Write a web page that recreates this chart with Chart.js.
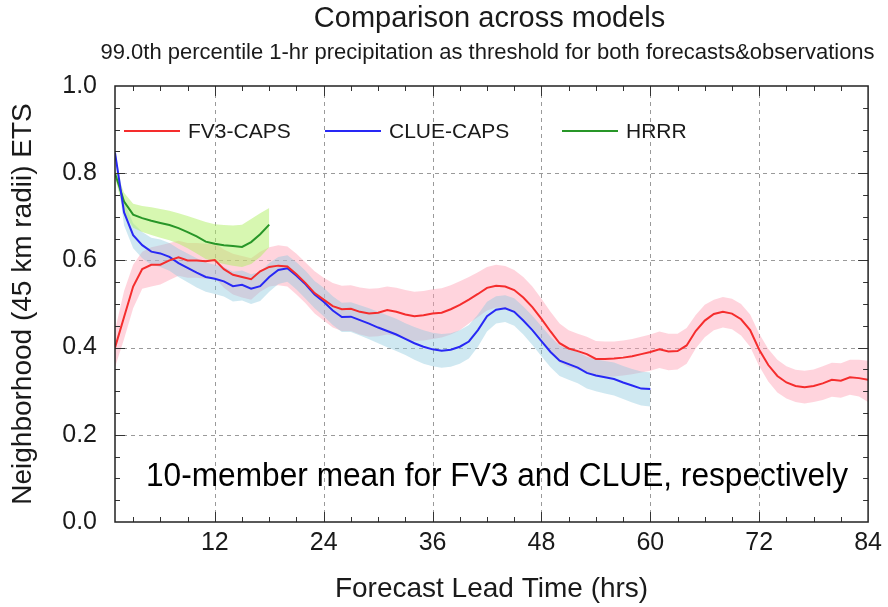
<!DOCTYPE html>
<html>
<head>
<meta charset="utf-8">
<script src="https://cdn.jsdelivr.net/npm/chart.js@4.4.1/dist/chart.umd.min.js"></script>
<style>
  html, body { margin: 0; padding: 0; background: #fff; }
</style>
</head>
<body>
<canvas id="ets" width="888" height="607"></canvas>
<script>
// lead time (hrs), one value per hour
const leadHours = [1,2,3,4,5,6,7,8,9,10,11,12,13,14,15,16,17,18,19,20,21,22,23,24,25,26,27,28,29,30,
  31,32,33,34,35,36,37,38,39,40,41,42,43,44,45,46,47,48,49,50,51,52,53,54,55,56,57,58,59,60,
  61,62,63,64,65,66,67,68,69,70,71,72,73,74,75,76,77,78,79,80,81,82,83,84];

// FV3-CAPS 10-member mean and spread (hrs 1-84)
const fv3Mean = [0.40,0.47,0.54,0.58,0.59,0.59,0.60,0.607,0.60,0.60,0.598,0.601,0.58,0.567,0.562,0.557,0.575,0.585,0.588,0.586,
  0.568,0.548,0.525,0.51,0.495,0.488,0.489,0.482,0.478,0.48,0.486,0.482,0.476,0.472,0.474,0.478,0.48,0.488,0.498,0.51,
  0.523,0.537,0.542,0.54,0.532,0.515,0.493,0.466,0.437,0.41,0.398,0.392,0.385,0.374,0.374,0.375,0.377,0.38,0.385,0.39,
  0.396,0.391,0.392,0.405,0.438,0.462,0.477,0.482,0.478,0.465,0.44,0.395,0.36,0.335,0.32,0.312,0.309,0.312,0.318,0.326,
  0.324,0.332,0.33,0.326];
const fv3Upper = [0.44,0.53,0.59,0.62,0.63,0.635,0.64,0.645,0.64,0.64,0.638,0.64,0.625,0.615,0.61,0.605,0.62,0.63,0.635,0.632,
  0.615,0.595,0.575,0.56,0.548,0.542,0.543,0.538,0.535,0.536,0.54,0.537,0.532,0.528,0.53,0.534,0.536,0.543,0.552,0.562,
  0.573,0.585,0.59,0.587,0.578,0.562,0.54,0.512,0.482,0.455,0.44,0.432,0.425,0.415,0.414,0.414,0.416,0.42,0.425,0.43,
  0.437,0.432,0.432,0.445,0.475,0.498,0.51,0.516,0.512,0.50,0.476,0.432,0.397,0.372,0.357,0.349,0.347,0.35,0.357,0.365,
  0.364,0.372,0.372,0.37];
const fv3Lower = [0.355,0.42,0.49,0.535,0.54,0.545,0.555,0.565,0.56,0.56,0.558,0.56,0.537,0.522,0.515,0.51,0.528,0.54,0.543,0.54,
  0.522,0.502,0.478,0.462,0.446,0.438,0.438,0.43,0.425,0.426,0.43,0.426,0.42,0.415,0.416,0.42,0.423,0.43,0.44,0.455,
  0.47,0.485,0.492,0.49,0.483,0.466,0.445,0.42,0.392,0.366,0.355,0.35,0.344,0.334,0.333,0.334,0.336,0.339,0.343,0.347,
  0.353,0.348,0.35,0.363,0.398,0.424,0.44,0.446,0.442,0.428,0.402,0.357,0.322,0.297,0.283,0.275,0.272,0.275,0.28,0.287,
  0.285,0.292,0.288,0.275];

// CLUE-CAPS 10-member mean and spread (hrs 1-60)
const clueMean = [0.847,0.71,0.658,0.635,0.62,0.616,0.608,0.594,0.583,0.572,0.562,0.558,0.552,0.541,0.544,0.535,0.541,0.562,0.578,0.582,
  0.565,0.545,0.522,0.505,0.485,0.47,0.471,0.463,0.455,0.446,0.438,0.43,0.42,0.41,0.402,0.396,0.393,0.395,0.402,0.414,
  0.44,0.472,0.487,0.49,0.482,0.462,0.44,0.415,0.39,0.37,0.362,0.354,0.342,0.336,0.332,0.328,0.32,0.313,0.306,0.305];
const clueUpper = [0.855,0.735,0.685,0.665,0.652,0.648,0.64,0.627,0.616,0.605,0.595,0.59,0.585,0.574,0.577,0.568,0.574,0.594,0.608,0.612,
  0.596,0.576,0.553,0.537,0.518,0.503,0.504,0.497,0.49,0.482,0.474,0.466,0.456,0.447,0.44,0.434,0.431,0.433,0.44,0.452,
  0.476,0.505,0.518,0.52,0.513,0.494,0.473,0.449,0.425,0.405,0.397,0.39,0.379,0.373,0.369,0.366,0.358,0.351,0.345,0.343];
const clueLower = [0.835,0.68,0.628,0.605,0.59,0.585,0.576,0.562,0.55,0.538,0.528,0.523,0.517,0.506,0.508,0.50,0.507,0.528,0.546,0.551,
  0.533,0.512,0.49,0.472,0.452,0.436,0.436,0.428,0.419,0.41,0.401,0.392,0.383,0.372,0.363,0.357,0.354,0.356,0.363,0.375,
  0.402,0.437,0.455,0.459,0.45,0.43,0.406,0.38,0.355,0.335,0.326,0.318,0.306,0.30,0.295,0.29,0.282,0.274,0.267,0.265];

// HRRR (hrs 1-18)
const hrrrMean = [0.80,0.735,0.705,0.697,0.691,0.686,0.681,0.674,0.665,0.655,0.643,0.638,0.635,0.633,0.631,0.642,0.66,0.682];
const hrrrUpper = [0.81,0.755,0.73,0.725,0.722,0.718,0.714,0.708,0.702,0.695,0.688,0.683,0.681,0.68,0.682,0.695,0.708,0.72];
const hrrrLower = [0.79,0.71,0.675,0.665,0.658,0.652,0.646,0.638,0.628,0.616,0.603,0.597,0.592,0.588,0.585,0.592,0.608,0.63];

// axes
const xTickLabels = [12,24,36,48,60,72,84];
const yTickLabels = [0,0.2,0.4,0.6,0.8,1.0];

const FONT = '"Liberation Sans", Arial, Helvetica, sans-serif';
const TEXT = '#1a1a1a';

function toPoints(vals) {
  return vals.map((v, i) => ({ x: leadHours[i], y: v }));
}

function band(label, upper, lower, fillColor) {
  return [
    { label: label + ' upper', data: toPoints(upper), borderColor: 'transparent', borderWidth: 1,
      backgroundColor: fillColor, pointRadius: 0, fill: '+1' },
    { label: label + ' lower', data: toPoints(lower), borderColor: 'transparent', borderWidth: 1,
      pointRadius: 0, fill: false }
  ];
}

const series = [
  { name: 'FV3-CAPS', color: 'rgb(245,45,45)' },
  { name: 'CLUE-CAPS', color: 'rgb(40,40,245)' },
  { name: 'HRRR', color: 'rgb(40,150,40)' }
];

// grid, inward ticks on four sides, legend, titles and the note
const decor = {
  id: 'decor',
  beforeDatasetsDraw(chart) {
    const { ctx, chartArea: a, scales: { x, y } } = chart;
    ctx.save();
    ctx.strokeStyle = '#9a9a9a';
    ctx.lineWidth = 1;
    ctx.setLineDash([4, 4]);
    xTickLabels.forEach(v => {
      if (v >= 84) return;
      const px = Math.round(x.getPixelForValue(v)) + 0.5;
      ctx.beginPath(); ctx.moveTo(px, a.top); ctx.lineTo(px, a.bottom); ctx.stroke();
    });
    yTickLabels.forEach(v => {
      if (v <= 0 || v >= 1) return;
      const py = Math.round(y.getPixelForValue(v)) + 0.5;
      ctx.beginPath(); ctx.moveTo(a.left, py); ctx.lineTo(a.right, py); ctx.stroke();
    });
    ctx.restore();
  },
  afterDatasetsDraw(chart) {
    const { ctx, chartArea: a, scales: { x, y } } = chart;
    ctx.save();
    ctx.strokeStyle = '#333';
    ctx.lineWidth = 1;
    // x ticks every 3 hrs, long ones every 12
    for (let h = 3; h < 84; h += 3) {
      const px = Math.round(x.getPixelForValue(h)) + 0.5;
      const len = h % 12 === 0 ? 10 : 5;
      ctx.beginPath();
      ctx.moveTo(px, a.top); ctx.lineTo(px, a.top + len);
      ctx.moveTo(px, a.bottom); ctx.lineTo(px, a.bottom - len);
      ctx.stroke();
    }
    // y ticks every 0.05, long ones every 0.2
    for (let k = 1; k < 20; k++) {
      const py = Math.round(y.getPixelForValue(k * 0.05)) + 0.5;
      const len = k % 4 === 0 ? 10 : 5;
      ctx.beginPath();
      ctx.moveTo(a.left, py); ctx.lineTo(a.left + len, py);
      ctx.moveTo(a.right, py); ctx.lineTo(a.right - len, py);
      ctx.stroke();
    }
    ctx.lineWidth = 1.5;
    ctx.strokeStyle = '#222';
    ctx.strokeRect(a.left, a.top, a.right - a.left, a.bottom - a.top);

    // legend
    const legendY = 131;
    const legendX = [124, 325, 562];
    ctx.font = '21px ' + FONT;
    ctx.textBaseline = 'middle';
    ctx.textAlign = 'left';
    series.forEach((s, i) => {
      ctx.strokeStyle = s.color;
      ctx.lineWidth = 2;
      ctx.beginPath();
      ctx.moveTo(legendX[i], legendY); ctx.lineTo(legendX[i] + 56, legendY);
      ctx.stroke();
      ctx.fillStyle = TEXT;
      ctx.fillText(s.name, legendX[i] + 64, legendY + 1);
    });

    // note in the lower part of the plot
    const note = '10-member mean for FV3 and CLUE, respectively';
    ctx.font = '34px ' + FONT;
    const sx = 702 / ctx.measureText(note).width;
    ctx.translate(497, 477);
    ctx.scale(sx, 1);
    ctx.textAlign = 'center';
    ctx.fillStyle = '#000';
    ctx.fillText(note, 0, 0);
    ctx.restore();
  },
  afterDraw(chart) {
    const { ctx, chartArea: a } = chart;
    const cx = (a.left + a.right) / 2;
    ctx.save();
    ctx.fillStyle = TEXT;
    ctx.textAlign = 'center';
    ctx.textBaseline = 'middle';
    ctx.font = '29px ' + FONT;
    ctx.fillText('Comparison across models', cx - 2, 19);
    ctx.font = '22px ' + FONT;
    ctx.fillText('99.0th percentile 1-hr precipitation as threshold for both forecasts&observations', cx - 4, 53);
    ctx.restore();
  }
};

new Chart(document.getElementById('ets'), {
  type: 'line',
  data: {
    datasets: [
      { label: series[0].name, data: toPoints(fv3Mean), borderColor: series[0].color, borderWidth: 2, pointRadius: 0, fill: false },
      { label: series[1].name, data: toPoints(clueMean), borderColor: series[1].color, borderWidth: 2, pointRadius: 0, fill: false },
      { label: series[2].name, data: toPoints(hrrrMean), borderColor: series[2].color, borderWidth: 2, pointRadius: 0, fill: false },
      ...band('HRRR', hrrrUpper, hrrrLower, 'rgba(175,240,100,0.5)'),
      ...band('CLUE-CAPS', clueUpper, clueLower, 'rgba(140,200,222,0.42)'),
      ...band('FV3-CAPS', fv3Upper, fv3Lower, 'rgba(255,160,180,0.45)')
    ]
  },
  options: {
    responsive: false,
    devicePixelRatio: 1,
    animation: false,
    layout: { padding: { left: 0, right: 15, top: 86, bottom: 0 } },
    plugins: { legend: { display: false }, tooltip: { enabled: false } },
    scales: {
      x: {
        type: 'linear',
        min: 1,
        max: 84,
        afterFit(scale) { scale.height = 85; },
        afterBuildTicks(scale) { scale.ticks = xTickLabels.map(v => ({ value: v })); },
        grid: { display: false, drawTicks: false },
        border: { display: false },
        ticks: { color: TEXT, font: { family: FONT, size: 25 }, padding: 6, maxRotation: 0, autoSkip: false },
        title: { display: true, text: 'Forecast Lead Time (hrs)', color: TEXT,
                 font: { family: FONT, size: 28 }, padding: { top: 0, bottom: 1 } }
      },
      y: {
        min: 0,
        max: 1,
        afterFit(scale) { scale.width = 115; },
        afterBuildTicks(scale) { scale.ticks = yTickLabels.map(v => ({ value: v })); },
        grid: { display: false, drawTicks: false },
        border: { display: false },
        ticks: { color: TEXT, font: { family: FONT, size: 25 }, padding: 18,
                 callback: v => v.toFixed(1) },
        title: { display: true, text: 'Neighborhood (45 km radii) ETS', color: TEXT,
                 font: { family: FONT, size: 28 }, padding: { top: 6, bottom: 0 } }
      }
    }
  },
  plugins: [decor]
});
</script>
</body>
</html>
